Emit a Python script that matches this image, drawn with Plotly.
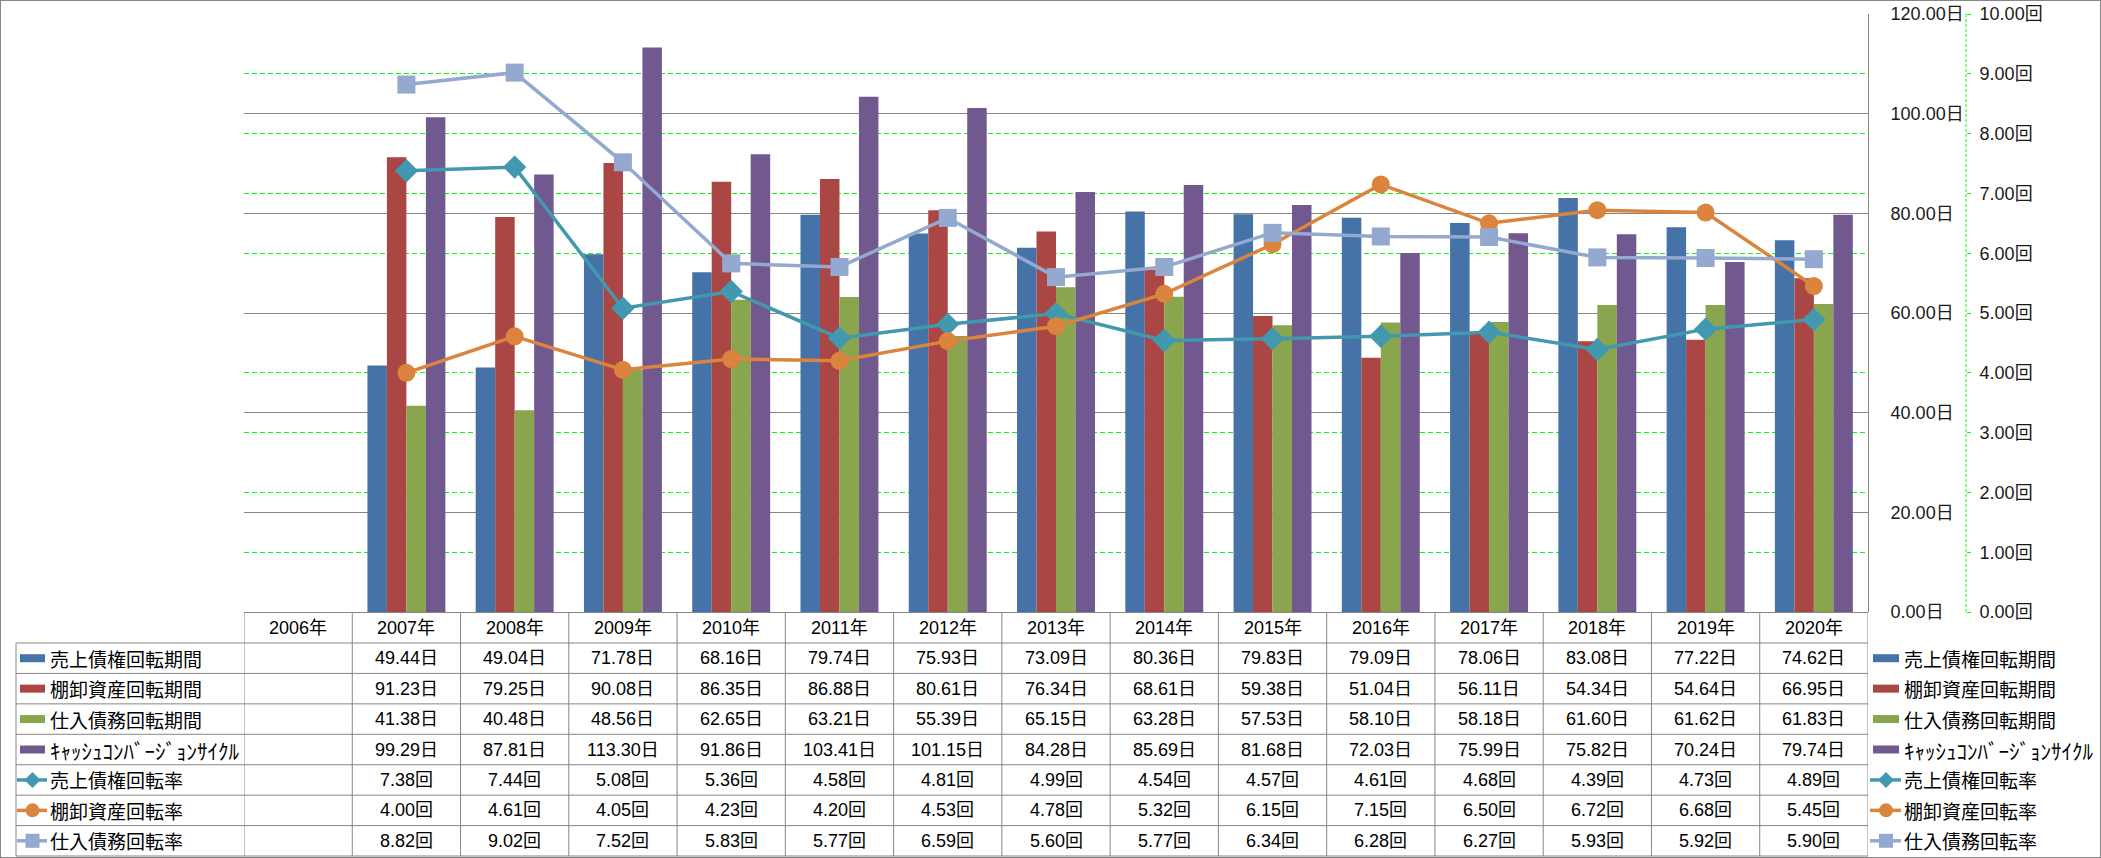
import plotly.graph_objects as go

# ---------------- data ----------------
years = ["2006", "2007", "2008", "2009", "2010", "2011", "2012", "2013",
         "2014", "2015", "2016", "2017", "2018", "2019", "2020"]
categories = [y + "年" for y in years]

bar_names = ["売上債権回転期間", "棚卸資産回転期間", "仕入債務回転期間", "ｷｬｯｼｭｺﾝﾊﾞｰｼﾞｮﾝｻｲｸﾙ"]
line_names = ["売上債権回転率", "棚卸資産回転率", "仕入債務回転率"]

ar_days = [None, 49.44, 49.04, 71.78, 68.16, 79.74, 75.93, 73.09, 80.36, 79.83, 79.09, 78.06, 83.08, 77.22, 74.62]
inv_days = [None, 91.23, 79.25, 90.08, 86.35, 86.88, 80.61, 76.34, 68.61, 59.38, 51.04, 56.11, 54.34, 54.64, 66.95]
ap_days = [None, 41.38, 40.48, 48.56, 62.65, 63.21, 55.39, 65.15, 63.28, 57.53, 58.10, 58.18, 61.60, 61.62, 61.83]
ccc_days = [None, 99.29, 87.81, 113.30, 91.86, 103.41, 101.15, 84.28, 85.69, 81.68, 72.03, 75.99, 75.82, 70.24, 79.74]

ar_turn = [None, 7.38, 7.44, 5.08, 5.36, 4.58, 4.81, 4.99, 4.54, 4.57, 4.61, 4.68, 4.39, 4.73, 4.89]
inv_turn = [None, 4.00, 4.61, 4.05, 4.23, 4.20, 4.53, 4.78, 5.32, 6.15, 7.15, 6.50, 6.72, 6.68, 5.45]
ap_turn = [None, 8.82, 9.02, 7.52, 5.83, 5.77, 6.59, 5.60, 5.77, 6.34, 6.28, 6.27, 5.93, 5.92, 5.90]

bar_series = [ar_days, inv_days, ap_days, ccc_days]
line_series = [ar_turn, inv_turn, ap_turn]

# ---------------- style ----------------
W, H = 2101, 858
bar_colors = ["#4572A7", "#AA4643", "#89A54E", "#71588F"]
line_colors = ["#4198AF", "#DB843D", "#93A9CF"]
line_symbols = ["diamond", "circle", "square"]
GRAY = "#868686"
GREEN = "#00FF00"
NUM_FONT = "Liberation Sans, Noto Sans CJK JP, sans-serif"
JP_FONT = "Noto Sans CJK JP, sans-serif"

PL, PR, PT, PB = 244, 1868, 14, 612      # plot area in pixels
Y2_LINE = 1966                           # position of the 回 axis
HDR_H = 31
ROW_H = 30.43
LBL_L = 16


def px(x):
    return x / W


def py(y):
    return 1 - y / H


fig = go.Figure()

for name, vals, col in zip(bar_names, bar_series, bar_colors):
    fig.add_trace(go.Bar(x=categories, y=vals, name=name, marker=dict(color=col, line=dict(width=0)),
                         yaxis="y"))

for name, vals, col, sym in zip(line_names, line_series, line_colors, line_symbols):
    fig.add_trace(go.Scatter(x=categories, y=vals, name=name, yaxis="y2", mode="lines+markers",
                             line=dict(color=col, width=3.5),
                             marker=dict(symbol=sym, size=18, color=col, line=dict(width=0))))

shapes = []
annotations = []

# outer chart border
shapes.append(dict(type="rect", xref="paper", yref="paper", x0=0, x1=1, y0=0, y1=1,
                   line=dict(color=GRAY, width=2), layer="above"))

# dashed axis line for the 回 axis
shapes.append(dict(type="line", xref="paper", yref="paper", x0=px(Y2_LINE), x1=px(Y2_LINE),
                   y0=py(PB), y1=py(PT), line=dict(color=GREEN, width=1, dash="3px,2px")))

# ---------------- data table ----------------
n_rows = len(bar_names) + len(line_names)
row_tops = [PB + HDR_H + i * ROW_H for i in range(n_rows + 1)]
tbl_bottom = row_tops[-1]

# column lines (category boundaries)
for i in range(len(categories) + 1):
    shapes.append(dict(type="line", xref="x", yref="paper", x0=i - 0.5, x1=i - 0.5,
                       y0=py(PB), y1=py(tbl_bottom), line=dict(color=GRAY, width=1)))
# header bottom / row lines
for i, yt in enumerate(row_tops):
    shapes.append(dict(type="line", xref="paper", yref="paper", x0=px(LBL_L), x1=px(PR),
                       y0=py(yt), y1=py(yt), line=dict(color=GRAY, width=1)))
# label column left border
shapes.append(dict(type="line", xref="paper", yref="paper", x0=px(LBL_L), x1=px(LBL_L),
                   y0=py(row_tops[0]), y1=py(tbl_bottom), line=dict(color=GRAY, width=1)))

# header
for i, c in enumerate(categories):
    annotations.append(dict(x=i, xref="x", y=py(PB + HDR_H / 2), yref="paper", text=c,
                            showarrow=False, xanchor="center", yanchor="middle",
                            font=dict(family=NUM_FONT, size=18, color="#000000")))

all_rows = [(n, v, "日") for n, v in zip(bar_names, bar_series)] + \
           [(n, v, "回") for n, v in zip(line_names, line_series)]

for r, (name, vals, unit) in enumerate(all_rows):
    yc = row_tops[r] + ROW_H / 2
    for i, v in enumerate(vals):
        if v is None:
            continue
        annotations.append(dict(x=i, xref="x", y=py(yc), yref="paper", text=f"{v:.2f}{unit}",
                                showarrow=False, xanchor="center", yanchor="middle",
                                font=dict(family=NUM_FONT, size=18, color="#000000")))
    # row label in table and right-hand legend
    lbl_size = 21 if name.startswith("ｷ") else 19
    for key_l, key_r, txt_x in [(20, 45, 48), (1873, 1899, 1902)]:
        annotations.append(dict(x=px(txt_x), xref="paper", y=py(yc), yref="paper", text=name,
                                showarrow=False, xanchor="left", yanchor="middle",
                                font=dict(family=JP_FONT, size=lbl_size, color="#000000")))
        if r < len(bar_names):
            shapes.append(dict(type="rect", xref="paper", yref="paper", x0=px(key_l), x1=px(key_r),
                               y0=py(yc + 4), y1=py(yc - 4), fillcolor=bar_colors[r],
                               line=dict(width=0)))
        else:
            k = r - len(bar_names)
            col = line_colors[k]
            shapes.append(dict(type="line", xref="paper", yref="paper", x0=px(key_l - 3),
                               x1=px(key_r + 2), y0=py(yc), y1=py(yc),
                               line=dict(color=col, width=3.5)))
            cx = (key_l + key_r) / 2
            s = 7
            if line_symbols[k] == "diamond":
                s = 8
                path = (f"M {px(cx - s)} {py(yc)} L {px(cx)} {py(yc - s)} "
                        f"L {px(cx + s)} {py(yc)} L {px(cx)} {py(yc + s)} Z")
                shapes.append(dict(type="path", xref="paper", yref="paper", path=path,
                                   fillcolor=col, line=dict(width=0)))
            elif line_symbols[k] == "circle":
                shapes.append(dict(type="circle", xref="paper", yref="paper", x0=px(cx - s),
                                   x1=px(cx + s), y0=py(yc + s), y1=py(yc - s),
                                   fillcolor=col, line=dict(width=0)))
            else:
                shapes.append(dict(type="rect", xref="paper", yref="paper", x0=px(cx - s),
                                   x1=px(cx + s), y0=py(yc + s), y1=py(yc - s),
                                   fillcolor=col, line=dict(width=0)))

fig.update_layout(
    width=W, height=H,
    autosize=False,
    margin=dict(l=0, r=0, t=0, b=0, pad=0, autoexpand=False),
    paper_bgcolor="white", plot_bgcolor="white",
    font=dict(family=NUM_FONT, size=18, color="#000000"),
    showlegend=False,
    barmode="group", bargap=0.28, bargroupgap=0,
    xaxis=dict(type="category", categoryorder="array", categoryarray=categories,
               range=[-0.5, len(categories) - 0.5], domain=[px(PL), px(PR)],
               automargin=False,
               showticklabels=False, showgrid=False, zeroline=False, showline=False, ticks=""),
    yaxis=dict(range=[0, 120], dtick=20, tick0=0, tickformat=".2f", ticksuffix="日",
               side="right", domain=[py(PB), py(PT)], automargin=False,
               showline=True, linecolor=GRAY, linewidth=1,
               showgrid=True, gridcolor=GRAY, gridwidth=1,
               zeroline=True, zerolinecolor=GRAY, zerolinewidth=1,
               ticks="", ticklabelstandoff=18,
               tickfont=dict(family=NUM_FONT, size=18, color="#1a1a1a"),
               minor=dict(dtick=12, tick0=0, showgrid=True, gridcolor=GREEN, gridwidth=1,
                          griddash="5px,3px", ticks="")),
    yaxis2=dict(range=[0, 10], dtick=1, tick0=0, tickformat=".2f", ticksuffix="回",
                overlaying="y", side="right", anchor="free", position=px(Y2_LINE),
                automargin=False,
                showgrid=False, zeroline=False, showline=False,
                ticks="outside", ticklen=4, tickcolor=GREEN, tickwidth=1,
                ticklabelstandoff=5,
                tickfont=dict(family=NUM_FONT, size=18, color="#1a1a1a")),
    shapes=shapes,
    annotations=annotations,
)

fig.write_html(
    "out.html",
    config={"displayModeBar": False, "responsive": False},
    post_script="document.body.style.margin='0';document.body.style.overflow='hidden';",
)
